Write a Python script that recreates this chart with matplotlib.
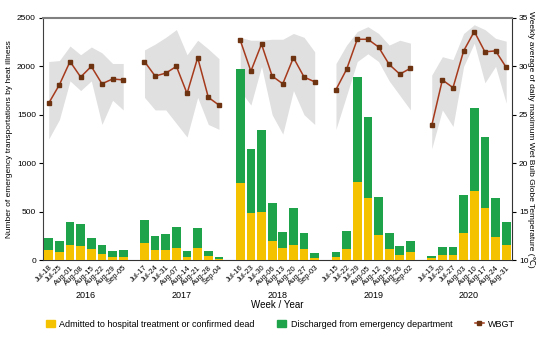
import numpy as np
import matplotlib
matplotlib.use("Agg")
import matplotlib.pyplot as plt
from matplotlib.lines import Line2D
from matplotlib.patches import Patch

plt.rcParams["font.family"] = ["Liberation Sans", "DejaVu Sans"]

YEARS = ["2016", "2017", "2018", "2019", "2020"]

WEEKS = [
    ["Jul-18", "Jul-25", "Aug-01", "Aug-08", "Aug-15", "Aug-22", "Aug-29", "Sep-05"],
    ["Jul-17", "Jul-24", "Jul-31", "Aug-07", "Aug-14", "Aug-21", "Aug-28", "Sep-04"],
    ["Jul-16", "Jul-23", "Jul-30", "Aug-06", "Aug-13", "Aug-20", "Aug-27", "Sep-03"],
    ["Jul-15", "Jul-22", "Jul-29", "Aug-05", "Aug-12", "Aug-19", "Aug-26", "Sep-02"],
    ["Jul-13", "Jul-20", "Jul-27", "Aug-03", "Aug-10", "Aug-17", "Aug-24", "Aug-31"],
]

# admitted to hospital treatment or confirmed dead
ADMITTED = [
    [105, 80, 155, 145, 110, 62, 34, 30],
    [180, 103, 103, 124, 30, 124, 41, 10],
    [800, 482, 492, 196, 121, 150, 114, 17],
    [34, 110, 802, 637, 260, 118, 52, 80],
    [20, 52, 52, 282, 713, 541, 240, 160],
]

# discharged from emergency department
DISCHARGED = [
    [119, 120, 241, 227, 114, 93, 62, 73],
    [233, 145, 162, 214, 63, 203, 52, 24],
    [1173, 661, 851, 396, 165, 391, 168, 59],
    [52, 190, 1085, 844, 387, 157, 88, 120],
    [18, 79, 79, 389, 854, 726, 397, 236],
]

WBGT = [
    [26.2, 28.1, 30.5, 28.9, 30.0, 28.2, 28.7, 28.6],
    [30.5, 29.0, 29.3, 30.0, 27.2, 30.9, 26.8, 26.0],
    [32.7, 29.5, 32.3, 29.0, 28.2, 30.9, 28.9, 28.4],
    [27.6, 29.7, 32.8, 32.8, 32.0, 30.2, 29.2, 29.8],
    [23.9, 28.6, 27.8, 31.6, 33.6, 31.5, 31.6, 29.9],
]

WBGT_MAX = [
    [30.5, 30.6, 32.1, 31.2, 32.0, 31.4, 30.3, 30.3],
    [31.7, 32.3, 33.0, 33.8, 31.2, 32.7, 31.8, 30.8],
    [33.0, 32.7, 32.7, 32.8, 32.8, 33.4, 33.0, 31.5],
    [30.3, 32.2, 33.6, 34.1, 33.4, 32.2, 32.7, 32.4],
    [29.1, 31.0, 30.7, 33.4, 34.3, 33.8, 32.9, 32.6],
]

WBGT_MIN = [
    [22.5, 24.5, 28.5, 27.5, 28.5, 24.0, 26.5, 25.5],
    [26.8, 25.5, 25.5, 24.1, 22.7, 26.8, 24.0, 23.5],
    [27.5, 26.0, 30.0, 25.0, 23.0, 27.5, 25.0, 24.0],
    [23.5, 27.0, 30.5, 31.3, 30.5, 28.5, 27.0, 25.5],
    [21.5, 25.5, 23.8, 30.0, 32.4, 28.3, 30.0, 26.2],
]

YELLOW = "#F5C200"
GREEN = "#1FA34A"
LINE = "#A63A1C"
MARK = "#6E3412"
BAND = "#E0E0E0"


def to_left(w):
    return (np.asarray(w) - 10) * 100


def to_right(y):
    return np.asarray(y) / 100 + 10


def main():
    fig = plt.figure(figsize=(5.5, 3.39), dpi=100)
    ax = fig.add_axes([0.078, 0.233, 0.853, 0.714])

    tick_pos, tick_lab = [], []
    start = 0
    for i, year in enumerate(YEARS):
        n = len(WEEKS[i])
        x = np.arange(start, start + n)

        ax.fill_between(x, to_left(WBGT_MIN[i]), to_left(WBGT_MAX[i]),
                        color=BAND, lw=0, zorder=1)
        ax.bar(x, ADMITTED[i], width=0.82, color=YELLOW, zorder=3)
        ax.bar(x, DISCHARGED[i], width=0.82, bottom=ADMITTED[i],
               color=GREEN, zorder=3)
        ax.plot(x, to_left(WBGT[i]), color=LINE, lw=1.1, marker="s",
                ms=3, mfc=MARK, mec=MARK, zorder=4)

        ax.text(x.mean(), -0.148, year, transform=ax.get_xaxis_transform(),
                ha="center", va="center", fontsize=6.5)

        tick_pos += list(x)
        tick_lab += WEEKS[i]
        start += n + 1

    ax.set_xlim(-0.55, start - 1 - 0.45)
    ax.set_ylim(0, 2500)
    ax.set_yticks(np.arange(0, 2501, 500))

    ax.set_xticks(tick_pos)
    ax.set_xticklabels(tick_lab, rotation=45, ha="right",
                       rotation_mode="anchor", fontsize=5.5)
    ax.tick_params(axis="x", length=0, pad=3)
    ax.tick_params(axis="y", labelsize=6, length=3, width=0.8, pad=2)

    ax.set_ylabel("Number of emergency transportations by heat illness",
                  fontsize=6, labelpad=3)
    ax.text(0.5, -0.186, "Week / Year", transform=ax.transAxes,
            ha="center", va="center", fontsize=7)

    ax2 = ax.secondary_yaxis("right", functions=(to_right, to_left))
    ax2.set_yticks(np.arange(10, 36, 5))
    ax2.tick_params(labelsize=6, length=3, width=0.8, pad=2)
    ax2.set_ylabel("Weekly average of daily maximum Wet Bulb Globe Temperature (℃)",
                   fontsize=6, rotation=270, labelpad=5)
    ax2.spines["right"].set_color("#333333")

    ax.spines["top"].set_color("#808080")
    ax.spines["top"].set_linewidth(1.5)
    ax.spines["left"].set_color("#404040")
    ax.spines["right"].set_visible(False)
    ax.spines["bottom"].set_color("#333333")

    handles = [
        Patch(color=YELLOW, label="Admitted to hospital treatment or confirmed dead"),
        Patch(color=GREEN, label="Discharged from emergency department"),
        Line2D([], [], color=LINE, lw=1.1, marker="s", ms=3, mfc=MARK,
               mec=MARK, label="WBGT"),
    ]
    fig.legend(handles=handles, loc="center", bbox_to_anchor=(0.51, 0.044),
               ncol=3, frameon=False, fontsize=6.5, handlelength=1.0,
               handleheight=0.8, columnspacing=2.5, handletextpad=0.5)

    fig.savefig("out.png", dpi=100)


if __name__ == "__main__":
    main()
